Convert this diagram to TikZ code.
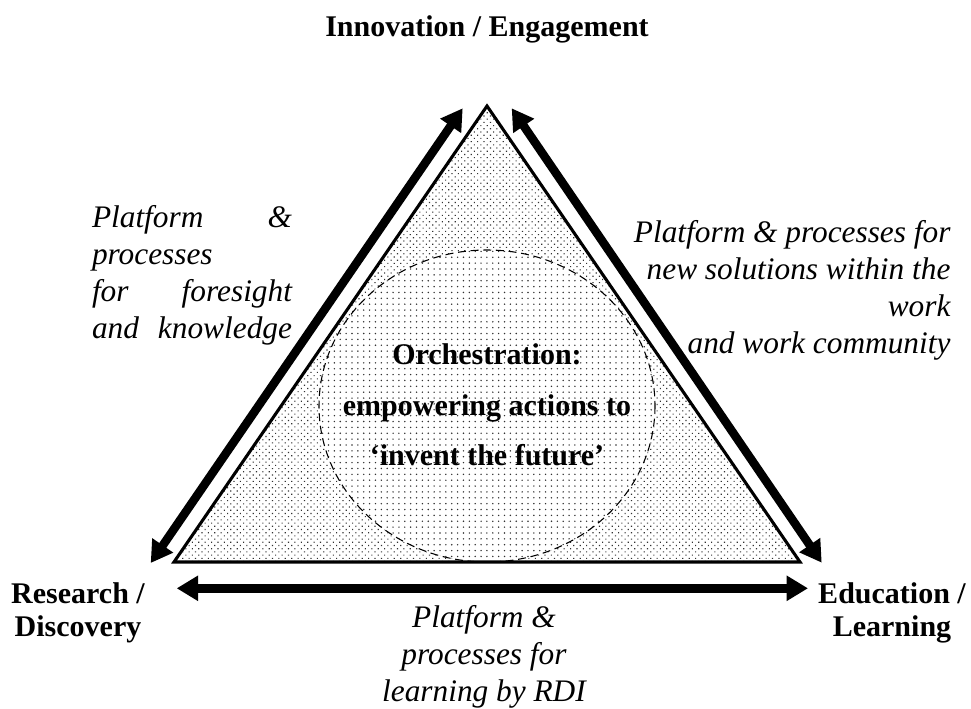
\documentclass[tikz,border=0pt]{standalone}
\usepackage{fontspec}
\setmainfont{Liberation Serif}
\usetikzlibrary{arrows.meta, patterns.meta}
\definecolor{dotgray}{RGB}{50, 50, 50}

\begin{document}
\begin{tikzpicture}[x=0.75pt, y=-0.75pt, thick,
  sidearrow/.style={line width=6.4pt,
    {Triangle[length=16pt, width=18pt]}-{Triangle[length=16pt, width=18pt]}},
  vertexlabel/.style={font=\fontsize{22.5}{24.75}\selectfont\bfseries, align=center, inner sep=0pt},
  sidenote/.style={font=\fontsize{23.5}{27.75}\selectfont\itshape, inner sep=0pt}]
  \useasboundingbox (0, 0) rectangle (971, 709);

  \coordinate (apex) at (487, 106);
  \coordinate (lft) at (174, 562);
  \coordinate (rgt) at (800, 562);

  % triangle and the circle inside it
  \fill[pattern={Dots[distance=3.4pt, angle=45, radius=0.6pt]}, pattern color=dotgray]
    (lft) -- (apex) -- (rgt) -- cycle;
  \fill[white] (487, 406) ellipse [x radius=168, y radius=156];
  \fill[pattern={Dots[distance=4.4pt, radius=0.6pt]}, pattern color=dotgray]
    (487, 406) ellipse [x radius=168, y radius=156];
  \draw[line width=0.8pt, dash pattern=on 6pt off 3.5pt] (487, 406) ellipse [x radius=168, y radius=156];
  \draw[line width=2.3pt, miter limit=20] (lft) -- (apex) -- (rgt) -- cycle;

  % arrows along the sides
  \coordinate (lbot) at (150.7, 563);
  \coordinate (ltop) at (462.7, 108.3);
  \coordinate (rtop) at (511.7, 108.3);
  \coordinate (rbot) at (821.7, 562.7);
  \coordinate (bl) at (176.7, 588.3);
  \coordinate (br) at (808, 588.3);
  \draw[sidearrow] (lbot) -- (ltop);
  \draw[sidearrow] (rtop) -- (rbot);
  \draw[sidearrow] (bl) -- (br);

  \node[vertexlabel, anchor=base] (innov) at (487, 37) {Innovation / Engagement};
  \node[vertexlabel] (research) at (78, 613) {Research /\\Discovery};
  \node[vertexlabel] (educ) at (892, 613) {Education /\\Learning};

  \node[sidenote, text width=150pt] (leftnote) at (192, 275)
    {Platform \hfill \&\\ processes\\ for \hfill foresight\\ and \hfill knowledge};
  \node[sidenote, align=right, anchor=east] (rightnote) at (951, 290)
    {Platform \& processes for\\ new solutions within the\\ work\\ and work community};
  \node[sidenote, align=center] (bottomnote) at (484, 657)
    {Platform \&\\ processes for\\ learning by RDI};

  \node[font=\fontsize{22.5}{38}\selectfont\bfseries, align=center, inner sep=0pt] (orch) at (487, 405)
    {Orchestration:\\ empowering actions to\\ `invent the future'};
\end{tikzpicture}
\end{document}
